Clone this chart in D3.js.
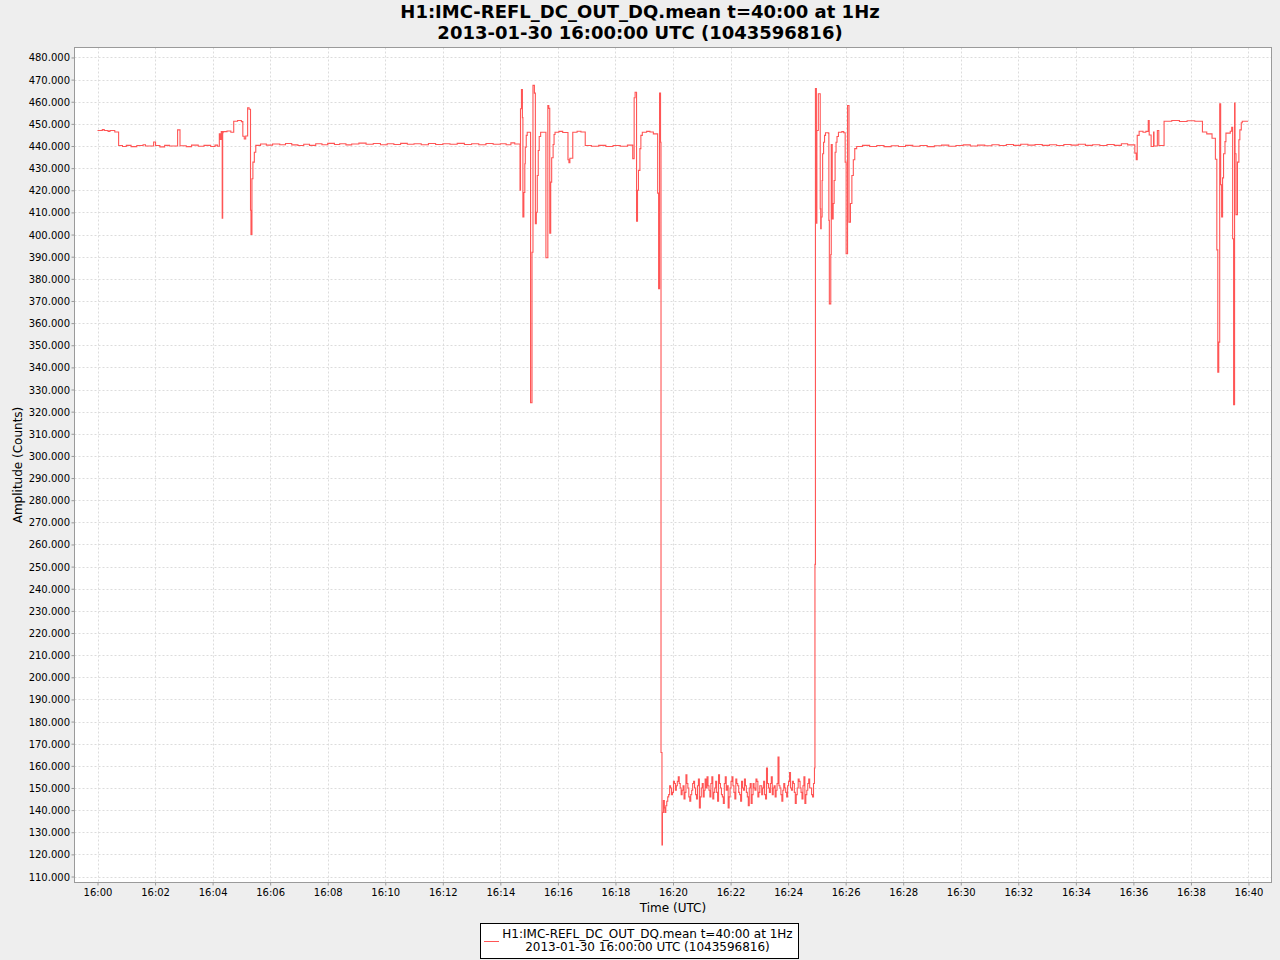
<!DOCTYPE html>
<html><head><meta charset="utf-8">
<script src="https://cdn.jsdelivr.net/npm/d3@7"></script>
<style>
html,body{margin:0;padding:0;background:#eeeeee;}
svg{display:block;font-family:"DejaVu Sans",sans-serif;}
</style></head>
<body><svg id="c" width="1280" height="960"></svg>
<script>
const titleLines = ["H1:IMC-REFL_DC_OUT_DQ.mean t=40:00 at 1Hz", "2013-01-30 16:00:00 UTC (1043596816)"];
const legendLines = ["H1:IMC-REFL_DC_OUT_DQ.mean t=40:00 at 1Hz", "2013-01-30 16:00:00 UTC (1043596816)"];
const xLabel = "Time (UTC)";
const yLabel = "Amplitude (Counts)";
const xTickSeconds = [0,120,240,360,480,600,720,840,960,1080,1200,1320,1440,1560,1680,1800,1920,2040,2160,2280,2400];
const xTickLabels = ["16:00","16:02","16:04","16:06","16:08","16:10","16:12","16:14","16:16","16:18","16:20","16:22","16:24","16:26","16:28","16:30","16:32","16:34","16:36","16:38","16:40"];
const yTicks = [110,120,130,140,150,160,170,180,190,200,210,220,230,240,250,260,270,280,290,300,310,320,330,340,350,360,370,380,390,400,410,420,430,440,450,460,470,480];

// step breakpoints: [seconds after 16:00:00, value] (value held until next breakpoint)
const seg1 = [[0,447],[10,447.4],[14,447],[22,446.6],[26,447],[36,446.3],[44,440.2],[52,439.8],[60,440.3],[70,439.7],[82,440.2],[95,440.6],[100,440],[117,441.8],[121,440.2],[130,439.6],[140,440.3],[150,440],[167,447.3],[172,440.1],[185,439.7],[196,440.4],[210,439.9],[222,440.3],[236,439.8],[245,440.4],[250,439.9],
[254,445.5],[256,443],[258,446.5],[260,407.4],[261,446],[262,446.5],[270,446.8],[278,446.2],[284,451.2],[292,451.5],[300,451],[303,444.4],[306,443.2],[309,444.5],[313,457.3],[316,456.6],[319,411],[320,400],[322,425.2],[324,432.7],[327,437.2],[330,440.3]];
const seg2 = [[340,440.9],[352,440.4],[365,440.9],[380,440.6],[392,441.1],[405,440.5],[418,440.2],[430,440.8],[442,440.3],[455,441.0],[468,440.6],[480,441.2],[494,440.7],[505,441.0],[518,440.5],[530,440.9],[545,441.3],[560,440.8],[575,441.1],[590,440.6],[604,441.0],[618,440.7],[632,441.2],[646,440.8],[660,441.0],[675,440.6],[690,441.1],[705,440.7],[720,441.0],[735,440.8],[750,441.2],[765,440.7],[780,441.0],[795,440.6],[810,441.1],[825,440.8],[840,441.0],[852,440.6],[862,441.4],[870,440.9]];
const seg3 = [[881,420],[882,456.8],[884,465.5],[886,452.8],[887,408],[889,419],[891,432],[892,439.5],[894,444.8],[896,446.2],
[903,324],[906,392],[908,467.4],[911,463.9],[913,404.9],[915,410.1],[917,426.7],[919,438],[921,444.3],[924,446.2],
[935,389.5],[939,458.3],[941,457],[943,400.6],[945,423.7],[947,434.7],[950,440.7],[952,445.2],[954,446.2],[962,446.6],[970,446.1],
[981,433.8],[983,432.5],[985,434.5],[991,446.2],[1000,446.7],[1008,446.3],[1017,440.2],[1030,439.9],[1045,440.3],[1060,439.8],[1075,440.2],[1090,439.9],[1105,440.4],
[1116,434.3],[1119,461.8],[1121,464.3],[1124,406],[1126,420],[1128,429],[1131,438.8],[1133,444.8],[1136,446.2],[1145,446.6],[1152,446.3],[1159,445.5],
[1168,418.7],[1170,375.5],[1172,463.9],[1174,441.7],[1175,166],[1177,124.3],[1178,139],[1180,144.3],[1182,141]];
const lowStart = 1183, lowStep = 2;
const lowValues = [139,142,144,146,147,151,150,147,148,153,152,149,151,153,155,152,150,147,149,151,
145,148,156,152,150,146,144,147,149,152,153,150,147,145,151,154,141,146,150,152,
146,149,154,150,155,151,149,146,152,155,145,148,150,153,148,144,156,152,150,147,
146,143,152,155,149,151,141,146,150,153,155,151,148,145,154,152,151,148,147,144,
153,150,149,154,151,148,146,142,150,152,143,147,152,150,149,154,153,146,148,151,
151,147,150,153,147,145,159,152,150,148,152,155,147,150,151,146,149,152,164,151,
150,147,144,149,152,150,148,146,151,153,157,150,149,153,152,148,143,147,150,154,
153,150,148,145,151,155,143,147,149,152,154,150,150,147,146,152,159];
const seg4 = [[1496,251],[1497,465.9],[1499,405.1],[1500,447],[1503,463.6],[1507,411.6],[1508,402.6],[1509,407.9],[1511,424.4],[1512,436.5],[1514,441.7],[1516,444.8],[1518,446],[1524,445.8],
[1525,406.4],[1526,368.7],[1529,391],[1530,440.7],[1532,407.1],[1534,414],[1536,424.4],[1538,437.2],[1540,441.7],[1542,444.3],[1545,446.2],[1552,446.5],[1556,446],
[1559,432.7],[1561,391.3],[1564,458.3],[1567,405.6],[1570,414],[1573,426.7],[1576,433.8],[1579,438.8],[1583,439.8]];
const seg5 = [[1595,440.3],[1610,439.8],[1625,440.2],[1640,439.7],[1655,440.1],[1670,439.8],[1685,440.3],[1700,439.9],[1715,440.2],[1730,439.7],[1745,440.1],[1760,440.4],[1775,439.9],[1790,440.2],[1805,440.5],[1820,440.0],[1835,440.4],[1850,440.1],[1865,440.6],[1880,440.2],[1895,440.7],[1910,440.3],[1925,440.8],[1940,440.4],[1955,440.7],[1970,440.3],[1985,440.6],[2000,440.2],[2015,440.7],[2030,440.4],[2045,440.8],[2060,440.3],[2075,440.6],[2090,440.2],[2105,440.7],[2120,440.3],[2135,441],[2148,440.5]];
const seg6 = [[2163,436.8],[2166,433.8],[2168,444.8],[2172,446.7],[2180,446.2],[2186,446.6],[2191,451.5],[2193,445],[2197,439.8],[2202,446.3],[2203,440],[2210,447],[2213,440.2],[2224,451.2],[2240,451.5],[2256,451.1],[2272,451.4],[2288,451.2],
[2304,446.3],[2313,445.5],[2324,443.5],[2331,434],[2334,393.1],[2336,337.8],[2338,351.4],[2340,459.1],[2342,422.5],[2344,407.9],[2346,425.6],[2348,436.5],[2351,442],[2353,445.8],[2362,446.7],[2365,448.5],[2367,398.1],[2369,323.1],[2371,459.4],[2372,436.5],[2374,409],[2377,432.7],[2380,442.8],[2382,447.3],[2385,450.5],[2387,451.2],[2399,451.2]];

const lowSeg = lowValues.map((v,i)=>[lowStart + i*lowStep, v]);
const series = [].concat(seg1, seg2, seg3, lowSeg, seg4, seg5, seg6);

const svg = d3.select("#c");
const L = 74.5, R = 1271.5, T = 47.5, B = 882.5;
const x = d3.scaleLinear().domain([-48, 2448]).range([L, R]);
const y = d3.scaleLinear().domain([107.3, 484.5]).range([B, T]);

svg.append("rect").attr("x",L).attr("y",T).attr("width",R-L).attr("height",B-T).attr("fill","#ffffff");

const grid = svg.append("g").attr("stroke","#dcdcdc").attr("stroke-width",1).attr("stroke-dasharray","2,2");
grid.selectAll("line.v").data(xTickSeconds).join("line")
  .attr("x1",d=>Math.round(x(d))+0.5).attr("x2",d=>Math.round(x(d))+0.5).attr("y1",T).attr("y2",B);
grid.selectAll("line.h").data(yTicks).join("line")
  .attr("y1",d=>Math.round(y(d))+0.5).attr("y2",d=>Math.round(y(d))+0.5).attr("x1",L).attr("x2",R);

const line = d3.line().x(d=>x(d[0])).y(d=>y(d[1])).curve(d3.curveStepAfter);
svg.append("path").datum(series).attr("d",line).attr("fill","none").attr("stroke","#ff5555").attr("stroke-width",1.1);

const xAxis = d3.axisBottom(x).tickValues(xTickSeconds).tickFormat((d,i)=>xTickLabels[i]).tickSize(3).tickSizeOuter(0);
const gx = svg.append("g").attr("transform",`translate(0,${B})`).call(xAxis);
const yAxis = d3.axisLeft(y).tickValues(yTicks).tickFormat(d=>d+".000").tickSize(3).tickSizeOuter(0);
const gy = svg.append("g").attr("transform",`translate(${L},0)`).call(yAxis);
[gx,gy].forEach(g=>{
  g.selectAll(".domain").remove();
  g.selectAll(".tick line").attr("stroke","#999999");
  g.selectAll(".tick text").attr("fill","#000").style("font-size","10px").style("font-family","DejaVu Sans");
});
gx.selectAll(".tick text").attr("dy","0.72em");
gy.selectAll(".tick text").attr("dx","1.5").attr("dy","0.35em");

svg.append("rect").attr("x",L).attr("y",T).attr("width",R-L).attr("height",B-T).attr("fill","none").attr("stroke","#9a9a9a").attr("stroke-width",1);

svg.append("text").attr("x",640).attr("y",18).attr("text-anchor","middle").style("font-size","18px").style("font-weight","bold").text(titleLines[0]);
svg.append("text").attr("x",640).attr("y",39).attr("text-anchor","middle").style("font-size","18px").style("font-weight","bold").text(titleLines[1]);

svg.append("text").attr("x",(L+R)/2).attr("y",912).attr("text-anchor","middle").style("font-size","12px").text(xLabel);
svg.append("text").attr("transform",`translate(22,${(T+B)/2}) rotate(-90)`).attr("text-anchor","middle").style("font-size","12px").text(yLabel);

const lg = svg.append("g");
lg.append("rect").attr("x",480.5).attr("y",923.5).attr("width",318).attr("height",35).attr("fill","#ffffff").attr("stroke","#000").attr("stroke-width",1);
lg.append("line").attr("x1",484).attr("x2",499).attr("y1",941.5).attr("y2",941.5).attr("stroke","#ff5555").attr("stroke-width",1);
lg.append("text").attr("x",647.5).attr("y",937.5).attr("text-anchor","middle").style("font-size","12px").text(legendLines[0]);
lg.append("text").attr("x",647.5).attr("y",951).attr("text-anchor","middle").style("font-size","12px").text(legendLines[1]);
</script></body></html>
